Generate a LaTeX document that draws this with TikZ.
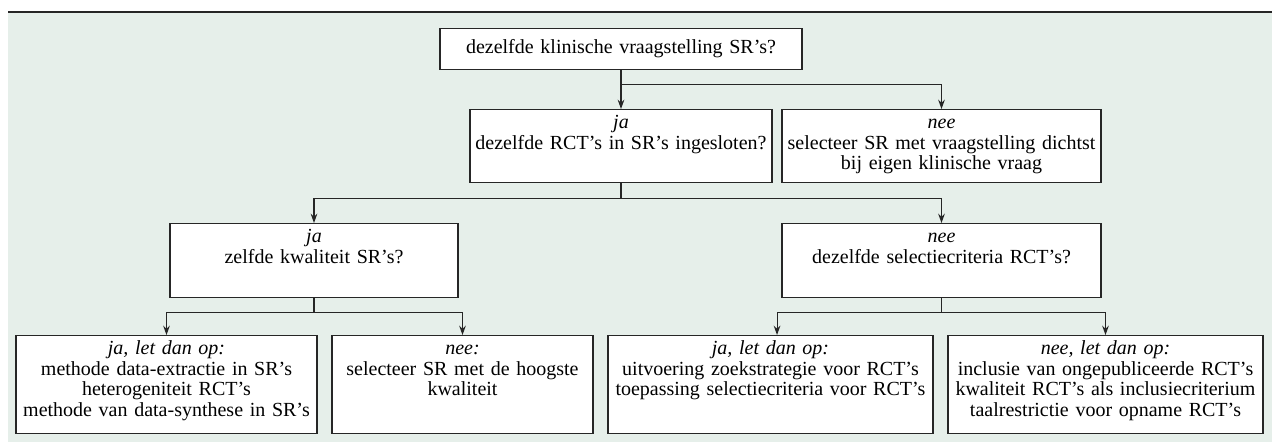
\documentclass[tikz,border=0pt]{standalone}
\usepackage{fontspec}
\setmainfont{Liberation Serif}
\usepackage{tikz}
\usetikzlibrary{arrows.meta}
\definecolor{achtergrond}{RGB}{230,239,234}
\colorlet{lijn}{black!85}
\tikzset{vak/.style={draw=lijn, line width=0.8pt, fill=white, anchor=north, align=center,
    inner xsep=0pt, inner ysep=3.75pt, text height=10.5pt, font=\rmfamily\fontsize{15}{15.5}\selectfont},
    tak/.style={draw=lijn, line width=0.8pt},
    pijl/.style={tak, -{Stealth[length=7pt,width=5pt]}}}

\begin{document}
\begin{tikzpicture}[x=0.75pt,y=-0.75pt]
    \useasboundingbox (0,0) rectangle (1272,442);
    \fill[achtergrond] (8,12) rectangle (1272,442);
    \draw[line width=1.5pt, lijn] (8,12) -- (1272,12);

    \node[vak, text width=271.5pt, minimum height=30.75pt] (vraag) at (621,28)
        {dezelfde klinische vraagstelling SR's?};
    \node[vak, text width=226.5pt, text depth=36.75pt] (jaRCT) at (621,109)
        {\textit{ja}\\dezelfde RCT's in SR's ingesloten?};
    \node[vak, text width=239.25pt, text depth=36.75pt] (neeSel) at (941.5,109)
        {\textit{nee}\\selecteer SR met vraagstelling dichtst\\bij eigen klinische vraag};
    \node[vak, text width=216pt, text depth=37.5pt] (jaKwal) at (314,223)
        {\textit{ja}\\zelfde kwaliteit SR's?};
    \node[vak, text width=239.25pt, text depth=37.5pt] (neeCrit) at (941.5,223)
        {\textit{nee}\\dezelfde selectiecriteria RCT's?};
    \node[vak, text width=225.75pt, text depth=55.5pt] (jaLet) at (166.5,335)
        {\textit{ja, let dan op:}\\methode data-extractie in SR's\\heterogeniteit RCT's\\methode van data-synthese in SR's};
    \node[vak, text width=195.75pt, text depth=55.5pt] (neeHoog) at (462.5,335)
        {\textit{nee:}\\selecteer SR met de hoogste\\kwaliteit};
    \node[vak, text width=243.75pt, text depth=55.5pt] (jaZoek) at (770.5,335)
        {\textit{ja, let dan op:}\\uitvoering zoekstrategie voor RCT's\\toepassing selectiecriteria voor RCT's};
    \node[vak, text width=236.25pt, text depth=55.5pt] (neeLet) at (1105.5,335)
        {\textit{nee, let dan op:}\\inclusie van ongepubliceerde RCT's\\kwaliteit RCT's als inclusiecriterium\\taalrestrictie voor opname RCT's};

    % vertakkingen
    \draw[pijl] (vraag) -- (jaRCT);
    \draw[pijl] (vraag.south) -- ++(0,14) -| (neeSel.north);
    \draw[tak] (jaRCT.south) -- ++(0,15) coordinate (splitsA);
    \draw[pijl] (splitsA) -| (jaKwal.north);
    \draw[pijl] (splitsA) -| (neeCrit.north);
    \draw[tak] (jaKwal.south) -- ++(0,14) coordinate (splitsB);
    \draw[pijl] (splitsB) -| (jaLet.north);
    \draw[pijl] (splitsB) -| (neeHoog.north);
    \draw[tak] (neeCrit.south) -- ++(0,14) coordinate (splitsC);
    \draw[pijl] (splitsC) -| ([xshift=4.9pt]jaZoek.north);
    \draw[pijl] (splitsC) -| (neeLet.north);
\end{tikzpicture}
\end{document}
